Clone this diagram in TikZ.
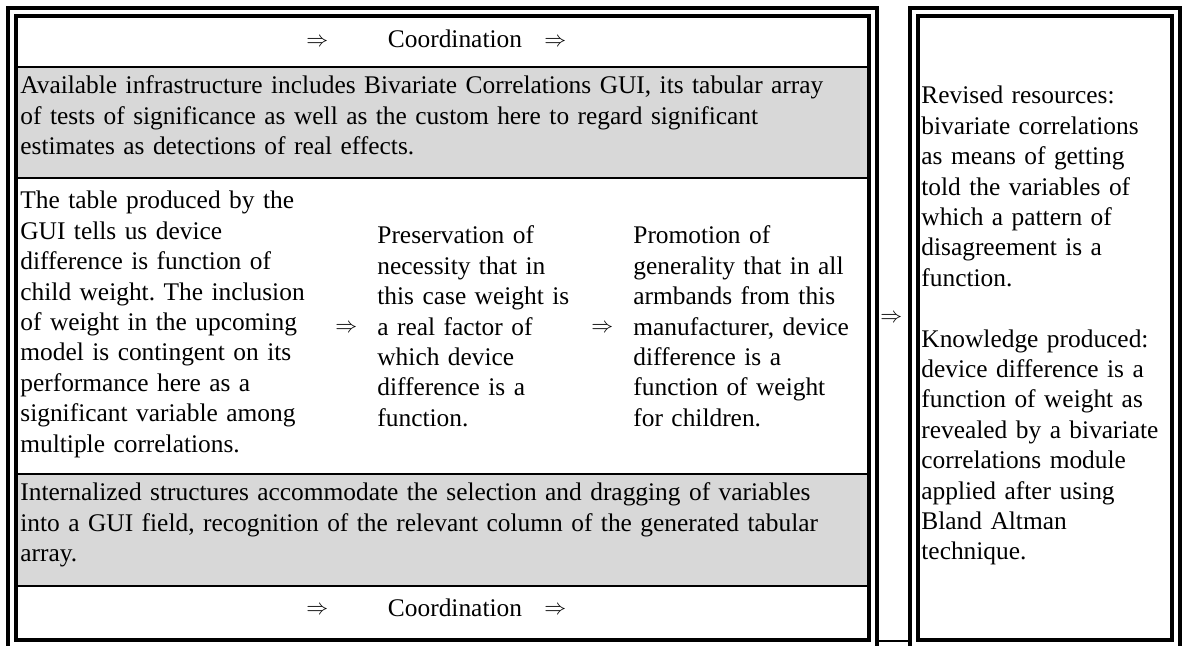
\documentclass[tikz,border=0pt]{standalone}
\usepackage{fontspec}
\setmainfont{Liberation Serif}
\frenchspacing
\definecolor{cellgray}{RGB}{216,216,216}
\begin{document}
\begin{tikzpicture}[x=0.5pt,y=-0.5pt,
  frame/.style={draw=black,line width=2pt},
  rule/.style={draw=black,line width=0.7pt},
  heavyrule/.style={draw=black,line width=1.15pt},
  body/.style={inner sep=0pt,anchor=base west,align=left,text width=#1,
    font=\fontsize{12.7pt}{15.2pt}\selectfont},
  body/.default=420pt,
  label/.style={inner sep=0pt,anchor=base,font=\fontsize{12.7pt}{15.2pt}\selectfont},
  implies/.style={inner sep=0pt,anchor=west,font=\fontsize{11pt}{11pt}\selectfont},
]
\useasboundingbox (0,0) rectangle (1183,646);

% shaded rows of the left panel
\fill[cellgray] (18,67) rectangle (867,178);
\fill[cellgray] (18,474) rectangle (867,586);

% row separators
\draw[rule] (18,67) -- (867,67);
\draw[heavyrule] (18,178) -- (867,178);
\draw[rule] (18,474) -- (867,474);
\draw[heavyrule] (18,586) -- (867,586);

% double frames
\draw[frame] (8,8) rectangle (877,648);
\draw[frame] (16,16) rectangle (869,640);
\draw[frame] (910,8) rectangle (1180,648);
\draw[frame] (918,16) rectangle (1172,640);
\draw[line width=0.6pt] (879,641) -- (908,641);

% top coordination row
\node[implies] (topL) at (306,42) {$\Rightarrow$};
\node[label] (topC) at (455,48) {Coordination};
\node[implies] (topR) at (544,42) {$\Rightarrow$};

% infrastructure row
\node[body] (infra) at (20,94) {Available infrastructure includes Bivariate Correlations GUI, its tabular array\\
of tests of significance as well as the custom here to regard significant\\
estimates as detections of real effects.};

% middle row: three statements
\node[body=200pt] (table) at (20,209) {The table produced by the\\
GUI tells us device\\
difference is function of\\
child weight. The inclusion\\
of weight in the upcoming\\
model is contingent on its\\
performance here as a\\
significant variable among\\
multiple correlations.};
\node[implies] (arrA) at (335,328) {$\Rightarrow$};
\node[body=120pt] (necessity) at (377,244) {Preservation of\\
necessity that in\\
this case weight is\\
a real factor of\\
which device\\
difference is a\\
function.};
\node[implies] (arrB) at (591,328) {$\Rightarrow$};
\node[body=120pt] (generality) at (633,244) {Promotion of\\
generality that in all\\
armbands from this\\
manufacturer, device\\
difference is a\\
function of weight\\
for children.};

% internalized structures row
\node[body] (internal) at (20,501) {Internalized structures accommodate the selection and dragging of variables\\
into a GUI field, recognition of the relevant column of the generated tabular\\
array.};

% bottom coordination row
\node[implies] (botL) at (306,610) {$\Rightarrow$};
\node[label] (botC) at (455,616) {Coordination};
\node[implies] (botR) at (544,610) {$\Rightarrow$};

% link between the panels
\node[implies] (link) at (880,318) {$\Rightarrow$};

% right panel
\node[body=125pt] (revised) at (921,104) {Revised resources:\\
bivariate correlations\\
as means of getting\\
told the variables of\\
which a pattern of\\
disagreement is a\\
function.\\[15.2pt]
Knowledge produced:\\
device difference is a\\
function of weight as\\
revealed by a bivariate\\
correlations module\\
applied after using\\
Bland Altman\\
technique.};
\end{tikzpicture}
\end{document}
